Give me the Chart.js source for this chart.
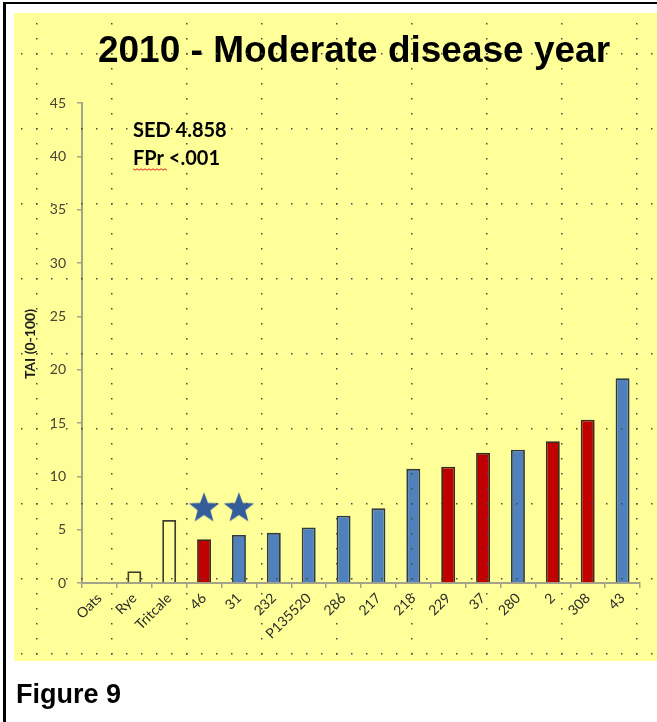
<!DOCTYPE html>
<html>
<head>
<meta charset="utf-8">
<title>2010 - Moderate disease year</title>
<script src="https://cdn.jsdelivr.net/npm/chart.js@4.4.1/dist/chart.umd.min.js"></script>
<style>
  html, body { margin: 0; padding: 0; background: #fff; }
  #wrap { position: relative; width: 657px; height: 722px; }
</style>
</head>
<body>
<div id="wrap"><canvas id="taiChart" width="657" height="722"></canvas></div>
<script>
// Data
const categories = ['Oats', 'Rye', 'Tritcale', '46', '31', '232', 'P135520', '286', '217', '218', '229', '37', '280', '2', '308', '43'];
const taiValues = [0, 1.1, 5.9, 4.1, 4.5, 4.7, 5.2, 6.3, 7.0, 10.7, 10.9, 12.2, 12.5, 13.3, 15.3, 19.2];
const barGroup = ['check', 'check', 'check', 'red', 'blue', 'blue', 'blue', 'blue', 'blue', 'blue', 'red', 'red', 'blue', 'red', 'red', 'blue'];
const starValues = [null, null, null, 7, 7, null, null, null, null, null, null, null, null, null, null, null];
const yMin = 0, yMax = 45, yStep = 5;
const statLines = ['SED 4.858', 'FPr <.001'];

const groupFill = { check: 'rgba(0,0,0,0)', red: '#c00000', blue: '#4f81bd' };
const groupEdge = { check: '#3f3f30', red: '#3a2a20', blue: '#2f3a45' };

// five point star used as marker
function makeStar(r, color) {
    const c = document.createElement('canvas');
    c.width = c.height = r * 2 + 2;
    const g = c.getContext('2d');
    g.beginPath();
    for (let i = 0; i < 10; i++) {
        const rad = i % 2 === 0 ? r : r * 0.42;
        const a = -Math.PI / 2 + i * Math.PI / 5;
        const px = r + 1 + rad * Math.cos(a);
        const py = r + 1 + rad * Math.sin(a);
        if (i === 0) g.moveTo(px, py); else g.lineTo(px, py);
    }
    g.closePath();
    g.fillStyle = color;
    g.fill();
    return c;
}
const starImg = makeStar(16, '#345d9c');

const axisColor = '#a3a38c';
const tickFont = { family: 'Lato', size: 14 };

const paperPlugin = {
    id: 'paper',
    beforeDraw(chart) {
        const c = chart.ctx;
        c.save();
        c.fillStyle = '#ffffff';
        c.fillRect(0, 0, chart.width, chart.height);
        c.fillStyle = '#ffff99';
        c.fillRect(14, 13, chart.width - 14, 648);
        c.fillStyle = '#000000';
        c.fillRect(3, 2, chart.width - 3, 2);
        c.fillRect(3, 2, 3, chart.height - 2);
        c.restore();
    },
    afterDraw(chart) {
        const c = chart.ctx;
        c.save();
        // title and notes
        c.fillStyle = '#000';
        c.textAlign = 'center';
        c.textBaseline = 'alphabetic';
        c.font = 'bold 37px "Liberation Sans", Arial, sans-serif';
        c.fillText('2010 - Moderate disease year', 354, 62);

        c.textAlign = 'left';
        c.font = 'bold 20px Lato, sans-serif';
        c.fillText(statLines[0], 133, 137);
        c.fillText(statLines[1], 133, 165);
        // spellcheck squiggle under FPr
        c.strokeStyle = '#e02020';
        c.lineWidth = 1;
        c.beginPath();
        for (let x = 133, i = 0; x <= 168; x += 2, i++) {
            const y = 169 + (i % 2 ? 1.2 : -0.2);
            if (i === 0) c.moveTo(x, y); else c.lineTo(x, y);
        }
        c.stroke();

        // y title
        c.save();
        c.translate(30, 344);
        c.rotate(-Math.PI / 2);
        c.textAlign = 'center';
        c.textBaseline = 'middle';
        c.font = 'bold 14px Lato, sans-serif';
        c.fillStyle = '#1a1a1a';
        c.fillText('TAI (0-100)', 0, 0);
        c.restore();

        c.font = 'bold 27px "Liberation Sans", Arial, sans-serif';
        c.fillText('Figure 9', 16, 703);

        // dotted grid paper on top
        c.fillStyle = '#4a4a40';
        for (let gx = 36; gx < chart.width; gx += 75) {
            for (let y = 23; y < 661; y += 15) c.fillRect(gx, y, 1.5, 1.5);
        }
        for (let gy = 53; gy < 661; gy += 75) {
            for (let x = 21; x < chart.width; x += 15) c.fillRect(x, gy, 1.5, 1.5);
        }
        c.restore();
    }
};

const ctx = document.getElementById('taiChart').getContext('2d');
const taiChart = new Chart(ctx, {
    type: 'bar',
    data: {
        labels: categories,
        datasets: [
            {
                type: 'line',
                data: starValues,
                showLine: false,
                pointStyle: starImg,
                order: 0,
            },
            {
                label: 'TAI',
                data: taiValues,
                backgroundColor: barGroup.map(g => groupFill[g]),
                borderColor: barGroup.map(g => groupEdge[g]),
                borderWidth: 1.8,
                borderSkipped: 'bottom',
                barPercentage: 0.4,
                categoryPercentage: 1.0,
                order: 1,
            },
        ],
    },
    options: {
        responsive: false,
        animation: false,
        devicePixelRatio: 1,
        layout: { padding: { top: 103, right: 17, left: 0, bottom: 0 } },
        plugins: {
            legend: { display: false },
            tooltip: { enabled: false },
        },
        scales: {
            x: {
                grid: { drawOnChartArea: false, tickLength: 5, color: axisColor, lineWidth: 1.5, offset: true },
                border: { color: axisColor, width: 2 },
                ticks: { autoSkip: false, maxRotation: 45, minRotation: 45, font: tickFont, color: '#2a2a2a', padding: 2 },
                afterFit(scale) { scale.height = 722 - 583; },
            },
            y: {
                min: yMin,
                max: yMax,
                ticks: { stepSize: yStep, font: tickFont, color: '#4a4035', padding: 11 },
                grid: { drawOnChartArea: false, tickLength: 5, color: axisColor, lineWidth: 1.5 },
                border: { color: axisColor, width: 2 },
                afterFit(scale) { scale.width = 82; },
            },
        },
    },
    plugins: [paperPlugin],
});
</script>
</body>
</html>
